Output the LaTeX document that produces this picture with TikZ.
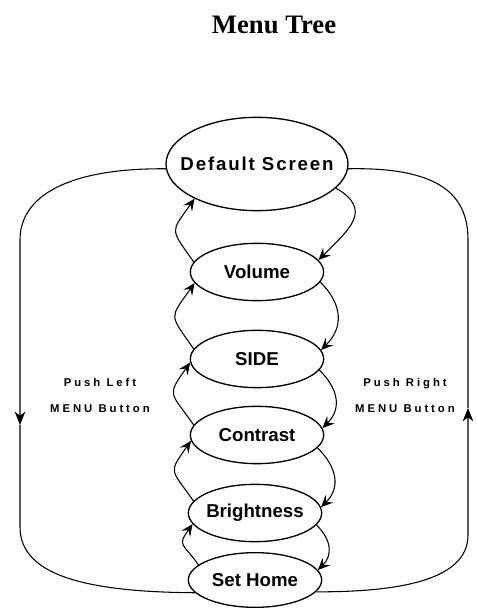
\documentclass[tikz,border=0pt]{standalone}
\usepackage{fontspec}
\setmainfont{Liberation Serif}
\setsansfont{Liberation Sans}
\usetikzlibrary{shapes.geometric,arrows.meta}

\begin{document}
\begin{tikzpicture}[
        x=0.75pt, y=0.75pt,
        menu/.style={ellipse, draw=black, line width=1pt, inner sep=0pt,
                     minimum width=100pt, minimum height=43pt},
        every label/.style={font={\sffamily\bfseries\fontsize{14}{16}\selectfont}},
        paso/.style={-{Stealth[length=9pt,width=8pt,inset=3.5pt]}, line width=0.8pt},
        lado/.style={line width=0.8pt},
        nota/.style={font={\sffamily\bfseries\fontsize{8.5}{19.5}\selectfont\addfontfeature{LetterSpace=26}}, align=center}
    ]
        \useasboundingbox (0,0) rectangle (476,610);

        % Titulo
        \node[font={\bfseries\fontsize{20}{24}\selectfont}] (titulo) at (274,585) {Menu Tree};

        % Menus
        \node[menu, minimum width=136.5pt, minimum height=70pt,
              label={center:{\addfontfeature{LetterSpace=10}Default Screen}}] (def) at (257,446) {};
        \node[menu, label={center:Volume}] (vol) at (257,338) {};
        \node[menu, label={center:SIDE}] (side) at (257,251) {};
        \node[menu, label={center:Contrast}] (con) at (257,175) {};
        \node[menu, label={center:Brightness}] (bri) at (255,97) {};
        \node[menu, minimum height=41pt, label={center:Set Home}] (sh) at (255,30) {};

        % Textos laterales
        \node[nota] (izq) at (100,215) {Push Left\\MENU Button};
        \node[nota] (der) at (405,215) {Push Right\\MENU Button};

        % Subir (lado izquierdo)
        \draw[paso] (vol.171) to[out=125, in=235, looseness=1.7] (def.209);
        \draw[paso] (side.171) to[out=125, in=235, looseness=1.7] (vol.190);
        \draw[paso] (con.171) to[out=125, in=235, looseness=1.7] (side.183);
        \draw[paso] (bri.169) to[out=125, in=235, looseness=1.7] (con.185);
        \draw[paso] (sh.165) to[out=125, in=235, looseness=1.7] (bri.190);

        % Bajar (lado derecho)
        \draw[paso] (def.-17) to[out=-30, in=45, looseness=1.5] (vol.11);
        \draw[paso] (vol.-9) to[out=-45, in=45, looseness=1.2] (side.8);
        \draw[paso] (side.-10) to[out=-45, in=45, looseness=1.2] (con.6);
        \draw[paso] (con.-12) to[out=-45, in=45, looseness=1.2] (bri.5);
        \draw[paso] (bri.-11) to[out=-45, in=45, looseness=1.2] (sh.9);

        % Lazos exteriores
        \coordinate (lmid) at (20,185);
        \coordinate (rmid) at (468,202);
        \draw[lado, -{Stealth[length=10pt,width=8pt,inset=3pt]}] (def.183)
            .. controls (70,442) and (20,415) .. (20,370) -- (lmid);
        \draw[lado] (lmid) -- (20,83) .. controls (20,35) and (85,18) .. (sh.192);
        \draw[lado, -{Stealth[length=10pt,width=8pt,inset=3pt]}] (sh.-11)
            .. controls (400,18) and (468,30) .. (468,75) -- (rmid);
        \draw[lado] (rmid) -- (468,370) .. controls (468,415) and (440,443) .. (def.-3);
    \end{tikzpicture}
\end{document}
